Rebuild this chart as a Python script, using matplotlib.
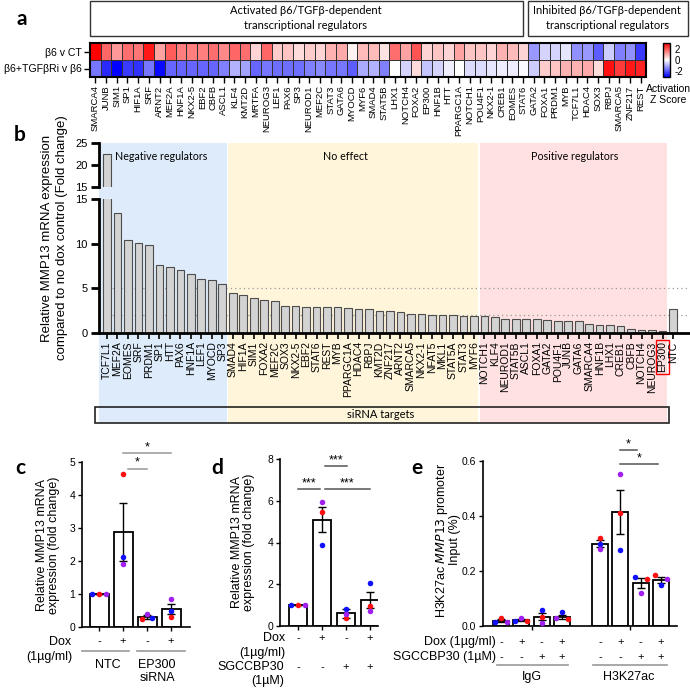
import matplotlib
matplotlib.use('Agg')
import matplotlib.pyplot as plt
import numpy as np
from matplotlib.patches import Rectangle
from matplotlib.lines import Line2D
from matplotlib.transforms import blended_transform_factory

plt.rcParams['font.family'] = ['Liberation Sans', 'DejaVu Sans']
CAL = ['Lato', 'DejaVu Sans']

# ---------------- data ----------------
heat_genes = ['SMARCA4', 'JUNB', 'SIM1', 'SP1', 'HIF1A', 'SRF', 'ARNT2', 'MEF2A', 'HNF1A', 'NKX2-5',
              'EBF2', 'CBFB', 'ASCL1', 'KLF4', 'KMT2D', 'MRTFA', 'NEUROG3', 'LEF1', 'PAX6', 'SP3',
              'NEUROD1', 'MEF2C', 'STAT3', 'GATA6', 'MYOCD', 'MYF6', 'SMAD4', 'STAT5B', 'LHX1', 'NOTCH4',
              'FOXA2', 'EP300', 'HNF1B', 'HTT', 'PPARGC1A', 'NOTCH1', 'POU4F1', 'NKX2-1', 'CREB1', 'EOMES',
              'STAT6', 'GATA2', 'FOXA1', 'PRDM1', 'MYB', 'TCF7L1', 'HDAC4', 'SOX3', 'RBPJ', 'SMARCA5',
              'ZNF217', 'REST']
heat_rows = ['β6 v CT', 'β6+TGFβRi v β6']
z_b6_vs_ct = [3.0, 1.8, 1.2, 1.7, 1.6, 2.7, 1.1, 1.9, 1.5, 1.5,
              1.5, 1.7, 1.4, 1.8, 1.7, 0.5, 1.8, 0.6, 0.7, 0.4,
              0.6, 0.5, 0.9, 1.0, 0.15, 0.8, 0.8, 0.35, 1.7, 1.1,
              2.0, 0.5, 0.7, 0.5, 1.1, 0.7, 0.7, 0.5, 0.9, 0.8,
              0.5, -1.2, -0.5, -0.5, -0.3, -1.3, -1.2, -1.9, -0.6, -1.5,
              -1.3, -2.3]
z_tgfbri_vs_b6 = [-1.6, -2.5, -3.0, -2.3, -2.4, -1.6, -2.9, -1.8, -1.8, -1.8,
                  -1.8, -1.8, -1.5, -0.9, -1.1, -1.8, -1.6, -1.7, -1.7, -1.7,
                  -1.5, -1.4, -1.6, -1.6, -1.9, -1.0, -0.9, -1.5, 0.0, -0.5,
                  0.4, -0.7, -0.5, -0.2, 0.0, -0.4, -0.4, -0.3, -0.2, -0.2,
                  -0.05, -0.6, 0.6, 0.7, 0.9, 0.9, 1.0, 0.4, 2.8, 2.3,
                  2.7, 2.6]

b_genes = ['TCF7L1', 'MEF2A', 'EOMES', 'SRF', 'PRDM1', 'SP1', 'HTT', 'PAX6', 'HNF1A', 'LEF1', 'MYOCD', 'SP3',
           'SMAD4', 'HIF1A', 'SIM1', 'FOXA2', 'MEF2C', 'SOX3', 'NKX2-5', 'EBF2', 'STAT6', 'REST', 'MYB',
           'PPARGC1A', 'HDAC4', 'RBPJ', 'KMT2D', 'ZNF217', 'ARNT2', 'SMARCA5', 'NKX2-1', 'NFAT5', 'MKL1',
           'STAT5A', 'STAT3', 'MYF6',
           'NOTCH1', 'KLF4', 'NEUROD1', 'STAT5B', 'ASCL1', 'FOXA1', 'GATA2', 'POU4F1', 'JUNB', 'GATA6',
           'SMARCA4', 'HNF1B', 'LHX1', 'CREB1', 'CBFB', 'NOTCH4', 'NEUROG3', 'EP300', 'NTC']
b_values = [22.4, 13.4, 10.4, 10.1, 9.8, 7.6, 7.4, 7.0, 6.65, 6.1, 5.9, 5.47,
            4.48, 4.22, 3.92, 3.66, 3.58, 3.0, 3.0, 2.92, 2.92, 2.9, 2.88,
            2.8, 2.65, 2.65, 2.45, 2.42, 2.3, 2.15, 2.1, 2.05, 2.0,
            1.98, 1.95, 1.9,
            1.88, 1.76, 1.58, 1.57, 1.55, 1.55, 1.47, 1.36, 1.36, 1.35,
            1.02, 0.87, 0.87, 0.83, 0.47, 0.38, 0.38, 0.2, 2.7]
b_group_sizes = [12, 24, 18]
b_group_names = ['Negative regulators', 'No effect', 'Positive regulators']

c_labels = ['-', '+', '-', '+']
c_mean = [1.0, 2.87, 0.30, 0.54]
c_sem = [0.0, 0.88, 0.05, 0.16]
c_red = [1.0, 4.63, 0.24, 0.31]
c_blue = [1.0, 2.12, 0.27, 0.49]
c_purple = [1.0, 1.90, 0.40, 0.85]

d_dox = ['-', '+', '-', '+']
d_sgc = ['-', '-', '+', '+']
d_mean = [1.0, 5.10, 0.60, 1.25]
d_sem = [0.0, 0.60, 0.21, 0.40]
d_red = [1.0, 5.45, 0.40, 0.97]
d_blue = [1.0, 3.90, 0.82, 2.05]
d_purple = [1.0, 5.95, 0.58, 0.72]

e_dox = ['-', '+', '-', '+', '-', '+', '-', '+']
e_sgc = ['-', '-', '+', '+', '-', '-', '+', '+']
e_groups = ['IgG', 'H3K27ac']
e_mean = [0.019, 0.023, 0.034, 0.033, 0.300, 0.413, 0.156, 0.169]
e_sem = [0.005, 0.003, 0.013, 0.007, 0.012, 0.080, 0.018, 0.011]
e_red = [0.028, 0.020, 0.033, 0.027, 0.32, 0.41, 0.172, 0.185]
e_blue = [0.013, 0.020, 0.057, 0.050, 0.30, 0.276, 0.177, 0.150]
e_purple = [0.016, 0.028, 0.012, 0.028, 0.28, 0.553, 0.120, 0.172]

# ---------------- figure helpers ----------------
W, H = 690, 688
fig = plt.figure(figsize=(W / 100, H / 100), dpi=100)


def ax_px(x0, y0, x1, y1):
    return fig.add_axes([x0 / W, 1 - y1 / H, (x1 - x0) / W, (y1 - y0) / H])


def ftxt(x, y, s, **kw):
    kw.setdefault('ha', 'center')
    kw.setdefault('va', 'center')
    return fig.text(x / W, 1 - y / H, s, **kw)


def fline(x0, x1, y, color='#999999', lw=1.2):
    fig.add_artist(Line2D([x0 / W, x1 / W], [1 - y / H, 1 - y / H], color=color, lw=lw,
                          transform=fig.transFigure))


def frect(x0, y0, x1, y1, lw=1.0):
    fig.add_artist(Rectangle((x0 / W, 1 - y1 / H), (x1 - x0) / W, (y1 - y0) / H, fill=False,
                             lw=lw, edgecolor='#333333', transform=fig.transFigure))


# panel letters
for lab, (x, y) in {'a': (22, 19), 'b': (20, 135), 'c': (20, 468), 'd': (217, 468), 'e': (417, 468)}.items():
    ftxt(x, y, lab, fontsize=15, fontweight='bold', family=CAL)

# ---------------- panel a ----------------
frect(90, 1, 523, 36)
frect(528, 1, 688, 36)
ftxt(306, 18, 'Activated β6/TGFβ-dependent\ntranscriptional regulators', fontsize=8, family=CAL,
     linespacing=1.35)
ftxt(607, 18, 'Inhibited β6/TGFβ-dependent\ntranscriptional regulators', fontsize=8, family=CAL,
     linespacing=1.35)

ax_h = ax_px(90, 43, 646, 77)
Z = np.array([z_b6_vs_ct, z_tgfbri_vs_b6])
mesh = ax_h.pcolormesh(np.arange(len(heat_genes) + 1), np.arange(3), Z, cmap='bwr', vmin=-3, vmax=3,
                       edgecolors='#333333', linewidth=0.4)
ax_h.set_xlim(0, len(heat_genes))
ax_h.set_ylim(2, 0)
ax_h.set_xticks(np.arange(len(heat_genes)) + 0.5)
ax_h.set_xticklabels(heat_genes, rotation=90, fontsize=6.8)
ax_h.set_yticks([0.5, 1.5])
ax_h.set_yticklabels(heat_rows, fontsize=7.6)
ax_h.tick_params(length=4, width=1, pad=2)
for s in ax_h.spines.values():
    s.set_linewidth(1.5)

cax = ax_px(663, 43, 670, 77)
cb = fig.colorbar(mesh, cax=cax, ticks=[2, 0, -2])
cb.ax.tick_params(length=0, labelsize=7, pad=3)
cb.ax.set_yticklabels(['2', '0', '-2'])
cb.outline.set_linewidth(1)
ftxt(668, 89, 'Activation', fontsize=7.5)
ftxt(668, 100, 'Z Score', fontsize=7.5)

# ---------------- panel b ----------------
n = len(b_genes)
xb = np.arange(n)
xl = (-0.76, 55.62)
bg = ax_px(99, 143, 690, 423)
bg.set_xlim(xl)
bg.set_ylim(0, 1)
bg.axis('off')
shade = ['#DEEBFA', '#FFF5DA', '#FFE1E1']
start = 0
for size, col in zip(b_group_sizes, shade):
    left = -0.72 if start == 0 else start - 0.42
    bg.axvspan(left, start + size - 0.58, color=col, lw=0)
    start += size
bg.add_patch(Rectangle((-1.15, 0.0), 54.75, 0.057, fill=False, lw=1.2, edgecolor='#222222',
                       clip_on=False))
ftxt(381, 415, 'siRNA targets', fontsize=8, family=CAL)
for name, xpos in zip(b_group_names, [161, 345, 575]):
    ftxt(xpos, 156, name, fontsize=7.7, family=CAL)

axl = ax_px(99, 199, 690, 333)
axu = ax_px(99, 143, 690, 187)
for ax, lim in ((axl, (0, 15)), (axu, (15, 25))):
    ax.set_facecolor('none')
    ax.bar(xb, b_values, width=0.73, color='#D3D3D3', edgecolor='#4d4d4d', lw=0.8, zorder=2)
    ax.set_xlim(xl)
    ax.set_ylim(*lim)
    ax.spines['top'].set_visible(False)
    ax.spines['right'].set_visible(False)
    ax.spines['left'].set_linewidth(2)
    ax.spines['bottom'].set_linewidth(2)
    ax.tick_params(axis='y', length=6, width=2, labelsize=8, pad=2)
axu.spines['bottom'].set_visible(False)
axu.set_xticks([])
axu.set_yticks([15, 20, 25])
axl.set_yticks([0, 5, 10, 15])
for yv in (5, 2):
    axl.axhline(yv, ls=(0, (1, 2.5)), color='#999999', lw=0.9, zorder=1)
axl.set_xticks(xb)
axl.set_xticklabels(b_genes, rotation=90, fontsize=7.5)
axl.tick_params(axis='x', length=4, width=1.2, pad=2)
for t in axl.get_xticklabels():
    if t.get_text() == 'EP300':
        t.set_bbox(dict(facecolor='none', edgecolor='red', pad=1.0, lw=1))
ftxt(47, 238, 'Relative MMP13 mRNA expression', fontsize=9.5, rotation=90)
ftxt(62, 238, 'compared to no dox control (Fold change)', fontsize=9.5, rotation=90)

# ---------------- c, d, e helpers ----------------
RED, BLUE, PURPLE = '#FF1010', '#1010FF', '#A020F0'


def bar_panel(ax, xs, mean, sem, series, offsets, width):
    ax.bar(xs, mean, width, color='white', edgecolor='black', lw=1.3, zorder=2)
    ax.errorbar(xs, mean, yerr=sem, fmt='none', ecolor='black', elinewidth=1, capsize=3,
                capthick=1, zorder=3)
    for (vals, col), off in zip(series, offsets):
        ax.scatter(np.asarray(xs) + np.asarray(off), vals, s=16, color=col, lw=0, zorder=4)
    ax.spines['top'].set_visible(False)
    ax.spines['right'].set_visible(False)
    for s in ('left', 'bottom'):
        ax.spines[s].set_linewidth(1.2)
    ax.tick_params(length=3, width=1, labelsize=7.5, pad=2)


def sig(ax, x0, x1, y, text, color):
    ax.plot([x0, x1], [y, y], color=color, lw=1.1, clip_on=False, zorder=5)
    ax.text((x0 + x1) / 2, y, text, ha='center', va='bottom', fontsize=9, clip_on=False)


# ---------------- panel c ----------------
axc = ax_px(82, 462, 190, 627)
xc = np.arange(4)
bar_panel(axc, xc, c_mean, c_sem,
          [(c_blue, BLUE), (c_red, RED), (c_purple, PURPLE)],
          [[-0.3, 0, 0.2, 0], [0, 0, -0.2, 0], [0.3, 0, 0, 0]], 0.79)
axc.set_xlim(-0.71, 3.79)
axc.set_ylim(0, 5)
axc.set_yticks(range(6))
axc.set_xticks(xc)
axc.set_xticklabels([])
sig(axc, 1.2, 2.0, 4.8, '*', '#999999')
sig(axc, 1.0, 3.0, 5.27, '*', '#999999')
ftxt(48, 545, 'Relative MMP13 mRNA\nexpression (fold change)', fontsize=9, rotation=90, linespacing=1.1)
tc = blended_transform_factory(axc.transData, fig.transFigure)
for xv, s in zip(xc, c_labels):
    axc.text(xv, 1 - 641 / H, s, transform=tc, ha='center', va='center', fontsize=8)
ftxt(71, 642, 'Dox', fontsize=9, ha='right')
ftxt(72, 657, '(1µg/ml)', fontsize=9, ha='right')
fline(82, 129, 651)
fline(137, 185, 651)
ftxt(108, 665, 'NTC', fontsize=9)
ftxt(157, 665, 'EP300', fontsize=9)
ftxt(157, 678, 'siRNA', fontsize=9)

# ---------------- panel d ----------------
axd = ax_px(280, 459, 378, 626)
xd = np.arange(4)
bar_panel(axd, xd, d_mean, d_sem,
          [(d_blue, BLUE), (d_red, RED), (d_purple, PURPLE)],
          [[-0.3, 0, 0, 0], [0, 0, 0, 0], [0.3, 0, 0, 0]], 0.76)
axd.set_xlim(-0.75, 3.33)
axd.set_ylim(0, 8)
axd.set_yticks([0, 2, 4, 6, 8])
axd.set_xticks(xd)
axd.set_xticklabels([])
sig(axd, 0.0, 0.9, 6.55, '***', '#555555')
sig(axd, 1.12, 2.03, 7.66, '***', '#555555')
sig(axd, 1.12, 3.0, 6.55, '***', '#555555')
ftxt(243, 542, 'Relative MMP13 mRNA\nexpression (fold change)', fontsize=9, rotation=90, linespacing=1.1)
td = blended_transform_factory(axd.transData, fig.transFigure)
for xv, s1, s2 in zip(xd, d_dox, d_sgc):
    axd.text(xv, 1 - 638 / H, s1, transform=td, ha='center', va='center', fontsize=8)
    axd.text(xv, 1 - 667 / H, s2, transform=td, ha='center', va='center', fontsize=8)
ftxt(285, 638, 'Dox', fontsize=9, ha='right')
ftxt(285, 653, '(1µg/ml)', fontsize=9, ha='right')
ftxt(284, 667, 'SGCCBP30', fontsize=9, ha='right')
ftxt(284, 681, '(1µM)', fontsize=9, ha='right')

# ---------------- panel e ----------------
axe = ax_px(483, 461, 677, 626)
xe = np.array([0, 1, 2, 3, 4.85, 5.85, 6.85, 7.85])
bar_panel(axe, xe, e_mean, e_sem,
          [(e_blue, BLUE), (e_red, RED), (e_purple, PURPLE)],
          [[-0.3, -0.3, 0, 0, 0, 0, -0.3, 0],
           [0, 0.3, 0, 0.3, 0, 0, 0.3, -0.3],
           [0.3, 0, 0, -0.3, 0, 0, 0, 0.3]], 0.78)
axe.set_xlim(-0.88, 8.63)
axe.set_ylim(0, 0.6)
axe.set_yticks([0.0, 0.2, 0.4, 0.6])
axe.set_yticklabels(['0.0', '0.2', '0.4', '0.6'])
axe.set_xticks([1.5, 6.35])
axe.set_xticklabels([])
sig(axe, 5.83, 6.65, 0.64, '*', '#555555')
sig(axe, 5.83, 7.71, 0.589, '*', '#555555')
ftxt(442, 540, 'H3K27ac $\\it{MMP13}$ promoter', fontsize=9, rotation=90)
ftxt(455, 540, 'Input (%)', fontsize=9, rotation=90)
te = blended_transform_factory(axe.transData, fig.transFigure)
for xv, s1, s2 in zip(xe, e_dox, e_sgc):
    axe.text(xv, 1 - 642 / H, s1, transform=te, ha='center', va='center', fontsize=8)
    axe.text(xv, 1 - 657 / H, s2, transform=te, ha='center', va='center', fontsize=8)
ftxt(496, 642, 'Dox (1µg/ml)', fontsize=9, ha='right')
ftxt(496, 657, 'SGCCBP30 (1µM)', fontsize=9, ha='right')
fline(497, 568, 665)
fline(593, 667, 665)
ftxt(532, 677, e_groups[0], fontsize=9)
ftxt(629, 677, e_groups[1], fontsize=9)

fig.savefig('out.png', dpi=100)
